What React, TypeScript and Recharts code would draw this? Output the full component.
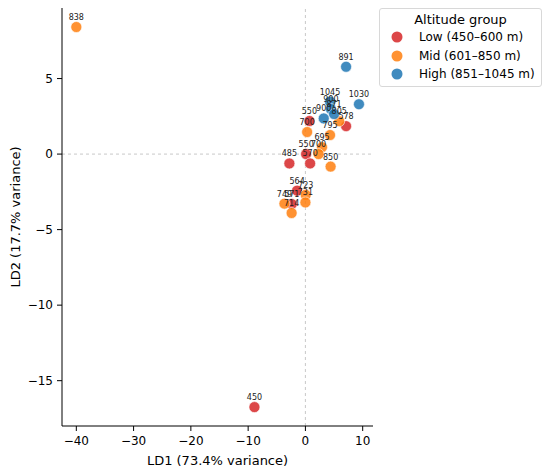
import { Label, LabelList, ReferenceLine, Scatter, ScatterChart, XAxis, YAxis } from 'recharts';

// LDA scores per altitude group (LD1, LD2, altitude label)
const lowPoints = [
  { x: -8.9, y: -16.75, alt: 450 },
  { x: -2.8, y: -0.62, alt: 485 },
  { x: 0.7, y: 2.19, alt: 550 },
  { x: 0.12, y: 0.0, alt: 550 },
  { x: 0.82, y: -0.62, alt: 570 },
  { x: 7.1, y: 1.85, alt: 578 },
  { x: -1.45, y: -2.42, alt: 564 },
  { x: -2.38, y: -3.31, alt: 571 },
];

const midPoints = [
  { x: -40.0, y: 8.41, alt: 838 },
  { x: 0.3, y: 1.46, alt: 700 },
  { x: 5.9, y: 2.18, alt: 805 },
  { x: 4.3, y: 1.26, alt: 795 },
  { x: 2.9, y: 0.46, alt: 695 },
  { x: 2.3, y: 0.0, alt: 700 },
  { x: 4.4, y: -0.83, alt: 850 },
  { x: 0.05, y: -2.7, alt: 723 },
  { x: 0.0, y: -3.2, alt: 731 },
  { x: -3.66, y: -3.28, alt: 749 },
  { x: -2.41, y: -3.9, alt: 714 },
];

const highPoints = [
  { x: 7.1, y: 5.78, alt: 891 },
  { x: 9.35, y: 3.3, alt: 1030 },
  { x: 4.3, y: 3.48, alt: 1045 },
  { x: 4.45, y: 2.98, alt: 900 },
  { x: 5.0, y: 2.65, alt: 871 },
  { x: 3.2, y: 2.36, alt: 900 },
];

const groups = [
  { name: 'Low (450–600 m)', color: '#d62728', data: lowPoints },
  { name: 'Mid (601–850 m)', color: '#ff7f0e', data: midPoints },
  { name: 'High (851–1045 m)', color: '#1f77b4', data: highPoints },
];

const xTicks = [-40, -30, -20, -10, 0, 10];
const yTicks = [-15, -10, -5, 0, 5];

const font = 'DejaVu Sans, sans-serif';
const minus = (v: number) => String(v).replace('-', '\u2212');

const dot = (color: string) => (props: any) => (
  <circle cx={props.cx} cy={props.cy} r={5.5} fill={color} fillOpacity={0.85} stroke="#fff" strokeWidth={0.6} />
);

const pointLabel = (props: any) => {
  const { x, y, width, height, value } = props;
  const cx = x + (width || 0) / 2;
  const cy = y + (height || 0) / 2;
  return (
    <text x={cx} y={cy - 7} textAnchor="middle" fontSize={8} fill="#222" fontFamily={font}>
      {value}
    </text>
  );
};

export default function App() {
  return (
    <div style={{ position: 'absolute', left: 0, top: 0, width: 550, height: 473, background: '#fff' }}>
      <ScatterChart width={550} height={473} margin={{ top: 8, right: 177, bottom: 0, left: 0 }}>
        <XAxis
          type="number"
          dataKey="x"
          domain={[-42.5, 11.8]}
          ticks={xTicks}
          allowDataOverflow
          height={47}
          tickSize={5}
          tickMargin={5}
          tickFormatter={minus}
          stroke="#000"
          tick={{ fill: '#000', fontSize: 12, fontFamily: font }}
        >
          <Label value="LD1 (73.4% variance)" position="insideBottom" offset={8} fill="#000" fontSize={13} fontFamily={font} />
        </XAxis>
        <YAxis
          type="number"
          dataKey="y"
          domain={[-18.0, 9.67]}
          ticks={yTicks}
          allowDataOverflow
          width={62}
          tickSize={5}
          tickMargin={4}
          tickFormatter={minus}
          stroke="#000"
          tick={{ fill: '#000', fontSize: 12, fontFamily: font }}
        >
          <Label
            value="LD2 (17.7% variance)"
            angle={-90}
            position="insideLeft"
            offset={15}
            fill="#000"
            fontSize={13}
            fontFamily={font}
            style={{ textAnchor: 'middle' }}
          />
        </YAxis>
        <ReferenceLine x={0} stroke="#bbb" strokeWidth={0.8} strokeDasharray="3 3" />
        <ReferenceLine y={0} stroke="#bbb" strokeWidth={0.8} strokeDasharray="3 3" />
        {groups.map((g) => (
          <Scatter key={g.name} name={g.name} data={g.data} shape={dot(g.color)} isAnimationActive={false}>
            <LabelList dataKey="alt" content={pointLabel} />
          </Scatter>
        ))}
      </ScatterChart>
      <div
        style={{
          position: 'absolute',
          left: 379,
          top: 8,
          width: 161,
          height: 77,
          border: '1px solid #d8d8d8',
          borderRadius: 3,
          background: 'rgba(255,255,255,0.8)',
          fontFamily: font,
          color: '#000',
        }}
      >
        <div style={{ textAlign: 'center', fontSize: 13, marginTop: 3, lineHeight: '16px' }}>Altitude group</div>
        {groups.map((g) => (
          <div key={g.name} style={{ display: 'flex', alignItems: 'center', height: 18.5, fontSize: 12 }}>
            <svg width={39} height={14} style={{ flex: 'none' }}>
              <circle cx={17} cy={7} r={5.5} fill={g.color} fillOpacity={0.85} />
            </svg>
            <span style={{ whiteSpace: 'nowrap' }}>{g.name}</span>
          </div>
        ))}
      </div>
    </div>
  );
}
